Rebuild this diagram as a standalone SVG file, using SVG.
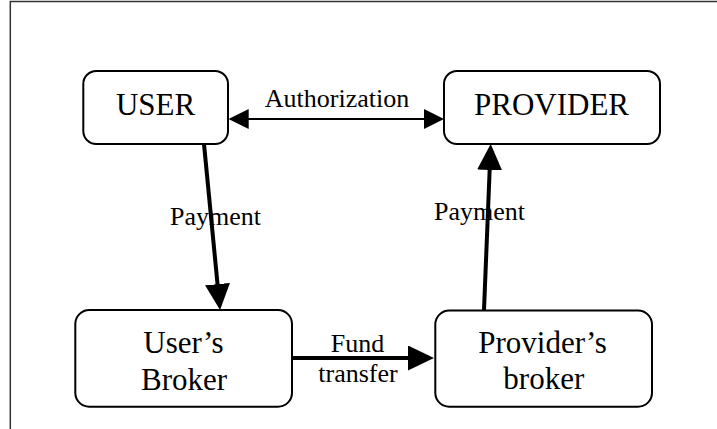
<svg xmlns="http://www.w3.org/2000/svg" width="717" height="429" viewBox="0 0 717 429">
  <style>
    .box { fill: #ffffff; stroke: #000000; stroke-width: 2; }
    .label { font-family: "Liberation Serif", "Times New Roman", serif; fill: #000000; text-anchor: middle; }
    .node-text { font-size: 31px; }
    .edge-text { font-size: 26px; }
    .thin { stroke: #000000; stroke-width: 2; fill: none; }
    .thick { stroke: #000000; stroke-width: 4; fill: none; }
    .frame { stroke: #333333; stroke-width: 1.5; fill: none; }
  </style>
  <defs>
    <marker id="head-thin" viewBox="0 0 20 20" refX="10" refY="10" markerWidth="20" markerHeight="20" markerUnits="userSpaceOnUse" orient="auto-start-reverse">
      <path d="M0,0 L20,10 L0,20 Z" fill="#000000"/>
    </marker>
    <marker id="head-thick" viewBox="0 0 26 25" refX="6" refY="12.5" markerWidth="26" markerHeight="25" markerUnits="userSpaceOnUse" orient="auto">
      <path d="M0,0 L26,12.5 L0,25 Z" fill="#000000"/>
    </marker>
  </defs>

  <rect width="717" height="429" fill="#ffffff"/>
  <!-- page frame -->
  <path class="frame" d="M10.3,429 L10.3,1.5 L717,1.5"/>

  <g id="connectors">
    <!-- Authorization (two-way) -->
    <line class="thin" x1="238.7" y1="119" x2="434" y2="119" marker-start="url(#head-thin)" marker-end="url(#head-thin)"/>
    <!-- Payment: USER to User's Broker -->
    <line class="thick" x1="204" y1="144" x2="218.1" y2="290.1" marker-end="url(#head-thick)"/>
    <!-- Fund transfer -->
    <line class="thick" x1="292" y1="358" x2="414" y2="358" marker-end="url(#head-thick)"/>
    <!-- Payment: Provider's broker to PROVIDER -->
    <line class="thick" x1="484" y1="310" x2="489.9" y2="164" marker-end="url(#head-thick)"/>

    <text class="label edge-text" x="337" y="107">Authorization</text>
    <text class="label edge-text" x="215.5" y="225">Payment</text>
    <text class="label edge-text" x="479.5" y="220">Payment</text>
    <text class="label edge-text" x="357.5" y="351.5">Fund</text>
    <text class="label edge-text" x="358" y="381.5">transfer</text>
  </g>

  <g id="user">
    <rect class="box" x="83.3" y="71" width="144.7" height="73" rx="13"/>
    <text class="label node-text" x="155.5" y="115">USER</text>
  </g>

  <g id="provider">
    <rect class="box" x="444" y="71" width="216" height="73" rx="13"/>
    <text class="label node-text" x="551.5" y="115">PROVIDER</text>
  </g>

  <g id="users-broker">
    <rect class="box" x="75.3" y="310" width="216.7" height="96.7" rx="14"/>
    <text class="label node-text" x="183.5" y="353">User’s</text>
    <text class="label node-text" x="184" y="389.5">Broker</text>
  </g>

  <g id="providers-broker">
    <rect class="box" x="435.3" y="310.5" width="216.7" height="96.2" rx="14"/>
    <text class="label node-text" x="542.5" y="353">Provider’s</text>
    <text class="label node-text" x="543.8" y="389">broker</text>
  </g>
</svg>
